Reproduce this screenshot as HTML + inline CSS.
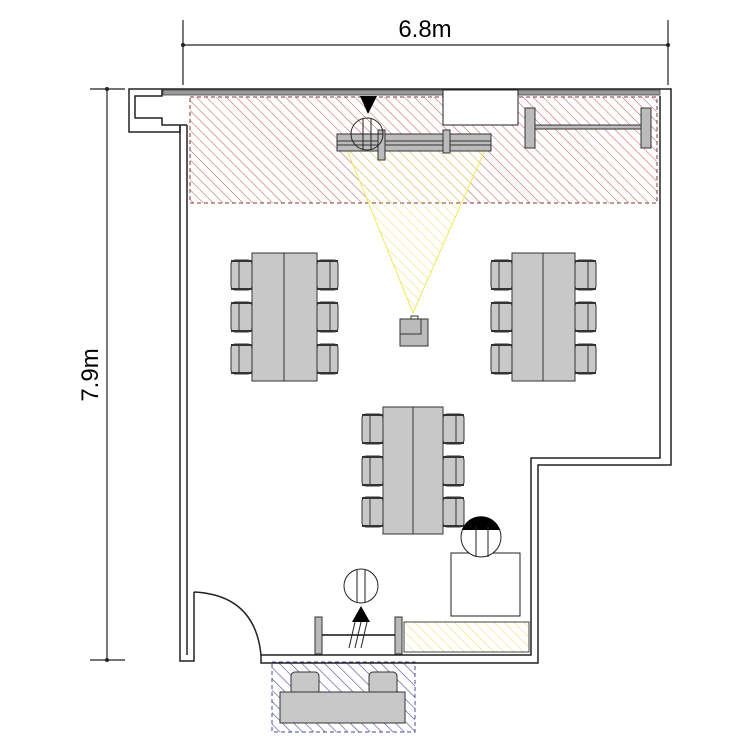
<!DOCTYPE html>
<html><head><style>body{margin:0;background:#fff}svg{display:block}</style></head><body>
<svg width="750" height="750" viewBox="0 0 750 750" xmlns="http://www.w3.org/2000/svg" font-family="Liberation Sans, sans-serif">
<defs>
<pattern id="red" patternUnits="userSpaceOnUse" width="7" height="7" patternTransform="rotate(-45)"><line x1="0" y1="0" x2="0" y2="7" stroke="#c8505a" stroke-width="1"/></pattern>
<pattern id="yel" patternUnits="userSpaceOnUse" width="7" height="7" patternTransform="rotate(-45)"><line x1="0" y1="0" x2="0" y2="7" stroke="#e8e060" stroke-width="1"/></pattern>
<pattern id="blu" patternUnits="userSpaceOnUse" width="8" height="8" patternTransform="rotate(-45)"><line x1="0" y1="0" x2="0" y2="8" stroke="#4a4aa0" stroke-width="1.2"/></pattern>
<g id="chL"><rect x="0" y="0" width="21" height="30" rx="4" fill="#c8c8c8" stroke="#333"/><line x1="8" y1="2" x2="8" y2="28" stroke="#333"/><line x1="0" y1="1" x2="21" y2="1" stroke="#333" stroke-width="2"/><line x1="0" y1="29" x2="21" y2="29" stroke="#333" stroke-width="2"/></g>
<g id="chR"><rect x="0" y="0" width="21" height="30" rx="4" fill="#c8c8c8" stroke="#333"/><line x1="13" y1="2" x2="13" y2="28" stroke="#333"/><line x1="0" y1="1" x2="21" y2="1" stroke="#333" stroke-width="2"/><line x1="0" y1="29" x2="21" y2="29" stroke="#333" stroke-width="2"/></g>
</defs>
<g stroke="#222" stroke-width="1.2" fill="none">
<line x1="183" y1="45" x2="668" y2="45"/><line x1="183" y1="20" x2="183" y2="85"/><line x1="668" y1="20" x2="668" y2="85"/>
<line x1="107" y1="89" x2="107" y2="660"/><line x1="90" y1="89" x2="125" y2="89"/><line x1="90" y1="660" x2="125" y2="660"/>
</g>
<circle cx="183" cy="45" r="2" fill="#222"/><circle cx="668" cy="45" r="2" fill="#222"/><circle cx="107" cy="89" r="2" fill="#222"/><circle cx="107" cy="660" r="2" fill="#222"/>
<text x="425" y="37" font-size="24" text-anchor="middle" fill="#000">6.8m</text>
<text transform="translate(98,375) rotate(-90)" font-size="24" text-anchor="middle" fill="#000">7.9m</text>
<rect x="190" y="97" width="467" height="106" fill="url(#red)" stroke="#7a3a3a" stroke-dasharray="4,3"/>
<polygon points="347,150 485,150 413,313" fill="url(#yel)" stroke="#f0e858"/>
<rect x="404" y="622" width="125" height="30" fill="url(#yel)" stroke="#444"/>
<rect x="272" y="662" width="143" height="70" fill="url(#blu)" stroke="#4a4aa0" stroke-dasharray="4,3"/>
<g stroke="#222" stroke-width="1.5" fill="none">
<polyline points="180,125 180,661 194,661 194,592"/>
<polyline points="187,125 187,655"/>
<polyline points="187,125 162,125 162,118 135,118 135,96 162,96 162,89"/>
<polyline points="180,125 180,132 129,132 129,89 671,89 671,465 538,465 538,663 261,663 261,655 531,655 531,458 660,458 660,96"/>
<path d="M194,592 Q255,595 261,655"/>
</g>
<rect x="163" y="90" width="497" height="5" fill="#999" stroke="#444" stroke-width="0.8"/>
<rect x="443" y="90" width="75" height="35" fill="#fff" stroke="#222"/>
<rect x="337" y="134" width="154" height="17" fill="#bbb" stroke="#333"/>
<line x1="337" y1="141" x2="491" y2="141" stroke="#333"/><line x1="337" y1="145" x2="491" y2="145" stroke="#333"/>
<rect x="378" y="130" width="7" height="30" fill="#bbb" stroke="#333"/><rect x="443" y="130" width="7" height="23" fill="#bbb" stroke="#333"/>
<circle cx="367" cy="134" r="16" fill="none" stroke="#222"/>
<line x1="363" y1="118" x2="363" y2="150" stroke="#222"/><line x1="371" y1="118" x2="371" y2="150" stroke="#222"/><line x1="351" y1="134" x2="383" y2="134" stroke="#222"/>
<polygon points="360,96 377,96 368,114" fill="#000"/>
<rect x="525" y="108" width="10" height="40" fill="#bbb" stroke="#333"/><rect x="641" y="108" width="10" height="40" fill="#bbb" stroke="#333"/>
<rect x="535" y="125" width="106" height="4" fill="#bbb" stroke="#333"/>
<rect x="400" y="319" width="28" height="27" fill="#bbb" stroke="#333"/><polyline points="400,334 421,334 421,319" fill="none" stroke="#333"/><rect x="411" y="316" width="7" height="3" fill="#fff" stroke="#333"/>
<g fill="#c8c8c8" stroke="#333">
<rect x="252" y="253" width="65" height="128"/><line x1="284" y1="253" x2="284" y2="381"/>
<rect x="512" y="253" width="63" height="128"/><line x1="543" y1="253" x2="543" y2="381"/>
<rect x="383" y="407" width="60" height="127"/><line x1="413" y1="407" x2="413" y2="534"/>
</g>
<use href="#chL" x="231" y="260"/><use href="#chL" x="231" y="302"/><use href="#chL" x="231" y="344"/>
<use href="#chR" x="317" y="260"/><use href="#chR" x="317" y="302"/><use href="#chR" x="317" y="344"/>
<use href="#chL" x="491" y="260"/><use href="#chL" x="491" y="302"/><use href="#chL" x="491" y="344"/>
<use href="#chR" x="575" y="260"/><use href="#chR" x="575" y="302"/><use href="#chR" x="575" y="344"/>
<use href="#chL" x="362" y="414"/><use href="#chL" x="362" y="456"/><use href="#chL" x="362" y="497"/>
<use href="#chR" x="443" y="414"/><use href="#chR" x="443" y="456"/><use href="#chR" x="443" y="497"/>
<rect x="451" y="553" width="69" height="63" fill="#fff" stroke="#222"/>
<circle cx="481" cy="537" r="20" fill="#fff" stroke="#222"/>
<path d="M462,530 A20,20 0 0 1 500,530 Z" fill="#000"/>
<line x1="476" y1="526" x2="476" y2="557" stroke="#222"/><line x1="488" y1="526" x2="488" y2="557" stroke="#222"/>
<rect x="315" y="617" width="7" height="37" fill="#bbb" stroke="#333"/><rect x="395" y="617" width="7" height="37" fill="#bbb" stroke="#333"/>
<line x1="322" y1="635" x2="395" y2="635" stroke="#111" stroke-width="1.5"/>
<circle cx="361" cy="586" r="17" fill="#fff" stroke="#222"/>
<line x1="357" y1="569" x2="357" y2="603" stroke="#222"/><line x1="365" y1="569" x2="365" y2="603" stroke="#222"/>
<polygon points="361,606 352,622 370,622" fill="#000"/>
<g stroke="#222"><line x1="355" y1="622" x2="349" y2="648"/><line x1="361" y1="622" x2="355" y2="648"/><line x1="367" y1="622" x2="361" y2="648"/></g>
<g fill="#c8c8c8" stroke="#333">
<rect x="291" y="672" width="28" height="22" rx="4"/><rect x="369" y="672" width="28" height="22" rx="4"/>
<rect x="280" y="692" width="125" height="31"/>
</g>
</svg>
</body></html>
